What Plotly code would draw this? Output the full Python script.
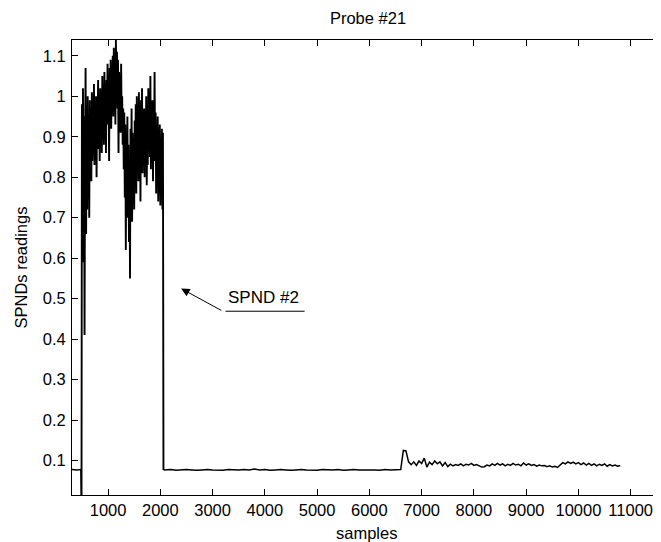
import plotly.graph_objects as go

# --- data ---
# flat start before the probe switches on
x_start = [310, 400, 480, 492]
y_start = [0.078, 0.077, 0.078, 0.0]

# noisy readings, 500..2050 every 10 samples
x_noisy = list(range(500, 2060, 10))
y_noisy = [
    0.98, 0.62, 1.02, 0.59, 0.95, 0.41, 0.88, 1.07, 0.66, 0.97, 0.72, 1.00, 0.78, 0.93, 0.70, 0.99, 0.81, 0.96, 0.79, 1.01,
    0.84, 0.98, 0.86, 1.03, 0.83, 0.95, 0.88, 1.00, 0.80, 0.97, 0.91, 1.04, 0.87, 0.99, 0.84, 1.02, 0.92, 0.98, 0.86, 1.05,
    0.90, 1.01, 0.88, 1.06, 0.95, 1.00, 0.86, 1.04, 0.93, 1.08, 0.96, 1.02, 0.84, 1.07, 0.97, 1.09, 0.92, 1.05, 0.99, 1.10,
    0.95, 1.12, 1.00, 1.07, 0.93, 1.14, 1.02, 1.11, 0.97, 1.09, 0.86, 1.06, 0.99, 1.03, 0.91, 1.08, 0.94, 1.00, 0.88, 0.97,
    0.82, 0.96, 0.75, 0.93, 0.62, 0.90, 0.78, 0.95, 0.70, 0.88, 0.64, 0.85, 0.55, 0.92, 0.74, 0.97, 0.69, 0.91, 0.80, 0.88,
    0.72, 0.94, 0.83, 0.98, 0.76, 1.00, 0.85, 0.95, 0.79, 1.01, 0.88, 0.96, 0.74, 0.99, 0.84, 1.02, 0.81, 0.93, 0.86, 0.97,
    0.80, 0.96, 0.87, 1.00, 0.78, 0.94, 0.83, 1.02, 0.90, 0.97, 0.85, 1.05, 0.82, 0.95, 0.88, 0.99, 0.79, 0.93, 0.86, 1.06,
    0.84, 0.96, 0.76, 0.92, 0.81, 0.95, 0.74, 0.90, 0.83, 0.93, 0.73, 0.88, 0.75, 0.92, 0.72, 0.91,
]

# quiet baseline after the drop, 2060..6500
x_base = [2060] + list(range(2100, 6600, 100))
y_base = [
    0.077,
    0.077, 0.078, 0.076, 0.077, 0.078, 0.077, 0.076, 0.077, 0.078, 0.077,
    0.077, 0.076, 0.078, 0.077, 0.077, 0.078, 0.077, 0.079, 0.077, 0.078,
    0.076, 0.077, 0.078, 0.077, 0.076, 0.077, 0.078, 0.077, 0.077, 0.076,
    0.078, 0.077, 0.077, 0.078, 0.076, 0.077, 0.078, 0.077, 0.077, 0.078,
    0.077, 0.076, 0.078, 0.077, 0.078,
]

# noisier tail, 6600..10800 every 50 samples
x_tail = list(range(6600, 10850, 50))
y_tail = [
    0.078, 0.125, 0.124, 0.097, 0.090, 0.097, 0.088, 0.099, 0.093, 0.106,
    0.084, 0.096, 0.090, 0.099, 0.092, 0.097, 0.087, 0.095, 0.085, 0.091,
    0.087, 0.090, 0.088, 0.092, 0.087, 0.091, 0.089, 0.093, 0.088, 0.090,
    0.086, 0.084, 0.085, 0.089, 0.087, 0.092, 0.088, 0.093, 0.089, 0.092,
    0.087, 0.091, 0.088, 0.093, 0.089, 0.091, 0.087, 0.094, 0.089, 0.092,
    0.088, 0.090, 0.086, 0.089, 0.087, 0.088, 0.085, 0.087, 0.084, 0.086,
    0.083, 0.088, 0.095, 0.092, 0.097, 0.093, 0.096, 0.092, 0.095, 0.090,
    0.094, 0.089, 0.093, 0.088, 0.092, 0.087, 0.091, 0.088, 0.092, 0.086,
    0.090, 0.087, 0.089, 0.086, 0.088,
]

x_ticks = list(range(1000, 12000, 1000))
x_tick_text = [str(v) for v in x_ticks]
y_ticks = [0.1, 0.2, 0.3, 0.4, 0.5, 0.6, 0.7, 0.8, 0.9, 1.0, 1.1]
y_tick_text = ["0.1", "0.2", "0.3", "0.4", "0.5", "0.6", "0.7", "0.8", "0.9", "1", "1.1"]

FONT = "Liberation Sans, Arial, sans-serif"

# the page body has an 8px margin, so the figure is a bit smaller than the window
W, H = 653, 534

fig = go.Figure()

# quiet parts of the signal
fig.add_trace(go.Scatter(
    x=x_start + [None] + x_base + x_tail,
    y=y_start + [None] + y_base + y_tail,
    mode="lines",
    line=dict(color="black", width=1.5),
    connectgaps=False,
    hoverinfo="skip",
))

# the noisy burst drawn a bit heavier so it reads as a dense band
fig.add_trace(go.Scatter(
    x=x_start[-1:] + x_noisy + x_base[:1],
    y=y_start[-1:] + y_noisy + y_base[:1],
    mode="lines",
    line=dict(color="black", width=1.9),
    hoverinfo="skip",
))

# arrow pointing at the drop
fig.add_annotation(
    x=2398, y=0.525, ax=3195, ay=0.469,
    xref="x", yref="y", axref="x", ayref="y",
    showarrow=True, arrowhead=2, arrowsize=1.7, arrowwidth=1,
    arrowcolor="black", text="",
)
fig.add_annotation(
    x=3975, y=0.475, xref="x", yref="y",
    text="SPND #2", showarrow=False,
    xanchor="center", yanchor="bottom",
    font=dict(family=FONT, size=17, color="black"),
)
fig.add_shape(
    type="line", x0=3247, x1=4761, y0=0.469, y1=0.469,
    xref="x", yref="y", line=dict(color="black", width=1),
)

# axis titles placed by hand
fig.add_annotation(
    text="samples", xref="paper", yref="paper", x=0.5, y=0,
    yshift=-38, xanchor="center", yanchor="middle", showarrow=False,
    font=dict(family=FONT, size=16.5, color="black"),
)
fig.add_annotation(
    text="SPNDs readings", xref="paper", yref="paper", x=0, y=0.5,
    xshift=-52, textangle=-90, xanchor="center", yanchor="middle",
    showarrow=False, font=dict(family=FONT, size=16.5, color="black"),
)

fig.update_layout(
    width=W, height=H,
    paper_bgcolor="white", plot_bgcolor="white",
    margin=dict(l=64, r=0, t=32, b=47),
    showlegend=False,
    font=dict(family=FONT, size=16.5, color="black"),
    title=dict(
        text="Probe #21", x=360 / W, xref="container", xanchor="center",
        y=1 - 10 / H, yref="container", yanchor="middle",
        font=dict(family=FONT, size=16.5, color="black"),
    ),
    xaxis=dict(
        range=[310, 11580], tickvals=x_ticks, ticktext=x_tick_text,
        ticks="inside", ticklen=6, tickcolor="black", showline=True,
        linecolor="black", linewidth=1, mirror="ticks",
        showgrid=False, zeroline=False,
    ),
    yaxis=dict(
        range=[0.015, 1.139], tickvals=y_ticks, ticktext=y_tick_text,
        ticks="inside", ticklen=6, tickcolor="black", showline=True,
        linecolor="black", linewidth=1, showgrid=False, zeroline=False,
        ticklabelstandoff=2,
    ),
)

fig.write_html("out.html")
